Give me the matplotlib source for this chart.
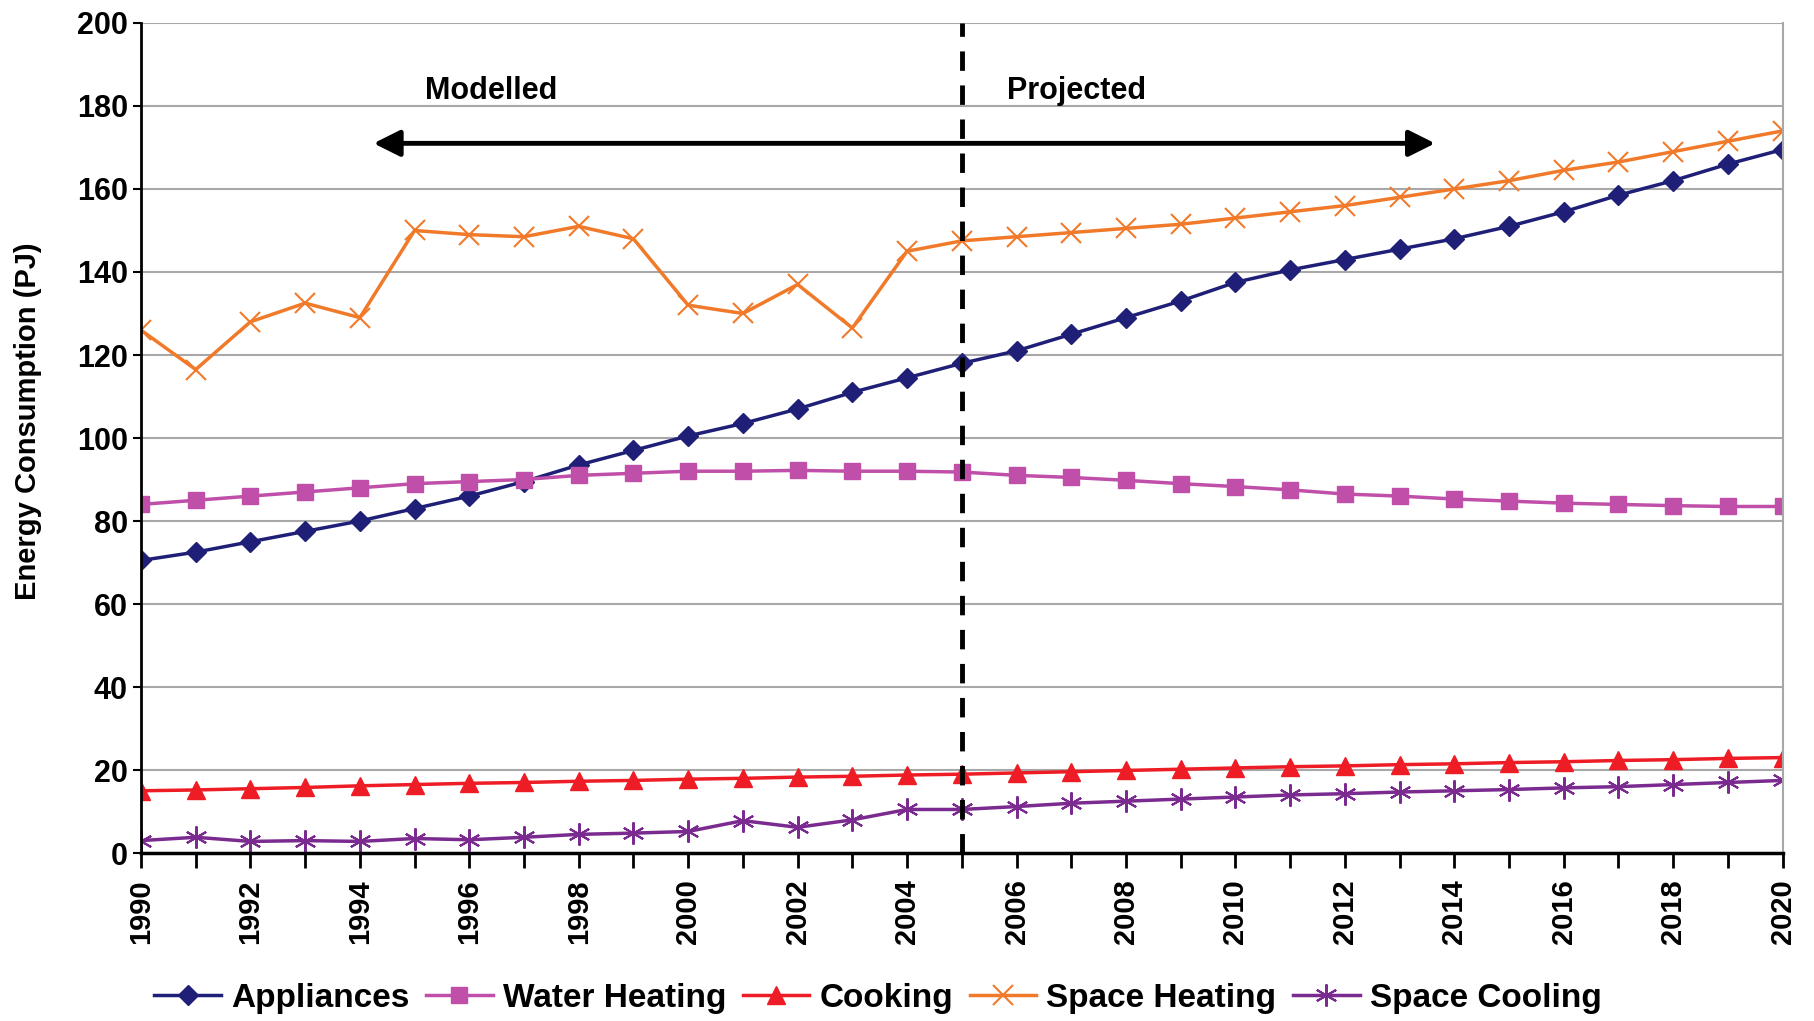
import matplotlib.pyplot as plt

plt.rcParams['font.family'] = ['Liberation Sans', 'DejaVu Sans']

# dados
anos = list(range(1990, 2021))
appliances = [70.5, 72.5, 75, 77.5, 80, 83, 86, 89.5, 93.5, 97, 100.5, 103.5, 107, 111, 114.5,
              118, 121, 125, 129, 133, 137.5, 140.5, 143, 145.5, 148, 151, 154.5, 158.5, 162, 166, 169.5]
water_heating = [84, 85, 86, 87, 88, 89, 89.5, 90, 91, 91.5, 92, 92, 92.2, 92, 92,
                 91.8, 91, 90.5, 89.8, 89, 88.3, 87.5, 86.5, 86, 85.3, 84.8, 84.3, 84, 83.7, 83.5, 83.5]
cooking = [15, 15.2, 15.5, 15.8, 16.2, 16.5, 16.8, 17, 17.3, 17.5, 17.8, 18, 18.3, 18.5, 18.8,
           19, 19.3, 19.6, 19.9, 20.2, 20.5, 20.8, 21, 21.3, 21.5, 21.8, 22, 22.3, 22.5, 22.8, 23]
space_heating = [126, 116.5, 128, 132.5, 129, 150, 149, 148.5, 151, 148, 132, 130, 137, 126.5, 145,
                 147.5, 148.5, 149.5, 150.5, 151.5, 153, 154.5, 156, 158, 160, 162, 164.5, 166.5, 169, 171.5, 174]
space_cooling = [3, 3.8, 2.8, 3, 2.8, 3.5, 3.2, 3.8, 4.5, 4.8, 5.2, 7.8, 6.2, 8, 10.5,
                 10.5, 11.2, 12, 12.5, 13, 13.5, 14, 14.3, 14.7, 15, 15.3, 15.7, 16, 16.5, 17, 17.5]

ano_corte = 2005

fig = plt.figure(figsize=(18.14, 10.21), dpi=100)
ax = fig.add_axes([0.0777, 0.1645, 0.905, 0.813])

ax.plot(anos, appliances, color='#1f1f78', marker='D', markersize=10, lw=2.5, label='Appliances')
ax.plot(anos, water_heating, color='#bf4fa8', marker='s', markersize=12, lw=2.5, label='Water Heating')
ax.plot(anos, cooking, color='#ee1c25', marker='^', markersize=13, lw=2.5, label='Cooking')
ax.plot(anos, space_heating, color='#f07a2a', marker='x', markersize=15, mew=1.5, lw=2.5, label='Space Heating')
ax.plot(anos, space_cooling, color='#7b2a90', marker=(6, 2, 0), markersize=16, mew=1.5, lw=2.5, label='Space Cooling')

# linha de separação modelado / projetado
ax.axvline(ano_corte, color='black', ls=(0, (4, 3)), lw=3.5, zorder=5)
ax.annotate('', xy=(1994.2, 171), xytext=(2013.7, 171),
            arrowprops=dict(arrowstyle='<|-|>', color='black', lw=3.5, mutation_scale=40))
ax.text(1996.4, 183.5, 'Modelled', ha='center', va='center', fontsize=22, fontweight='bold')
ax.text(2007.1, 183.5, 'Projected', ha='center', va='center', fontsize=22, fontweight='bold')

ax.set_xlim(1990, 2020)
ax.set_ylim(0, 200)
ax.set_yticks(range(0, 201, 20))
ax.set_xticks(anos, minor=True)
ax.set_xticks(range(1990, 2021, 2))
ax.tick_params(axis='x', which='both', direction='out', length=11, width=2, rotation=90,
               labelsize=21, pad=8)
ax.tick_params(axis='y', direction='out', length=6, width=1.5, labelsize=22)
for t in ax.get_xticklabels() + ax.get_yticklabels():
    t.set_fontweight('bold')
ax.set_ylabel('Energy Consumption (PJ)', fontsize=21, fontweight='bold')
ax.yaxis.set_label_coords(-0.06, 0.52)

ax.grid(axis='y', color='#a8a8a8', lw=1.5)
ax.set_axisbelow(True)
ax.spines['left'].set_linewidth(2)
ax.spines['bottom'].set_linewidth(2.5)
ax.spines['top'].set_visible(False)
ax.spines['right'].set_color('#a8a8a8')
ax.spines['right'].set_linewidth(1.5)
for s in ['left', 'bottom', 'right']:
    ax.spines[s].set_zorder(6)

fig.legend(loc='center', bbox_to_anchor=(0.484, 0.022), ncol=5, frameon=False,
           prop={'size': 24, 'weight': 'bold'}, handlelength=2.0, columnspacing=0.5, handletextpad=0.3)

fig.savefig('out.png', dpi=100)
